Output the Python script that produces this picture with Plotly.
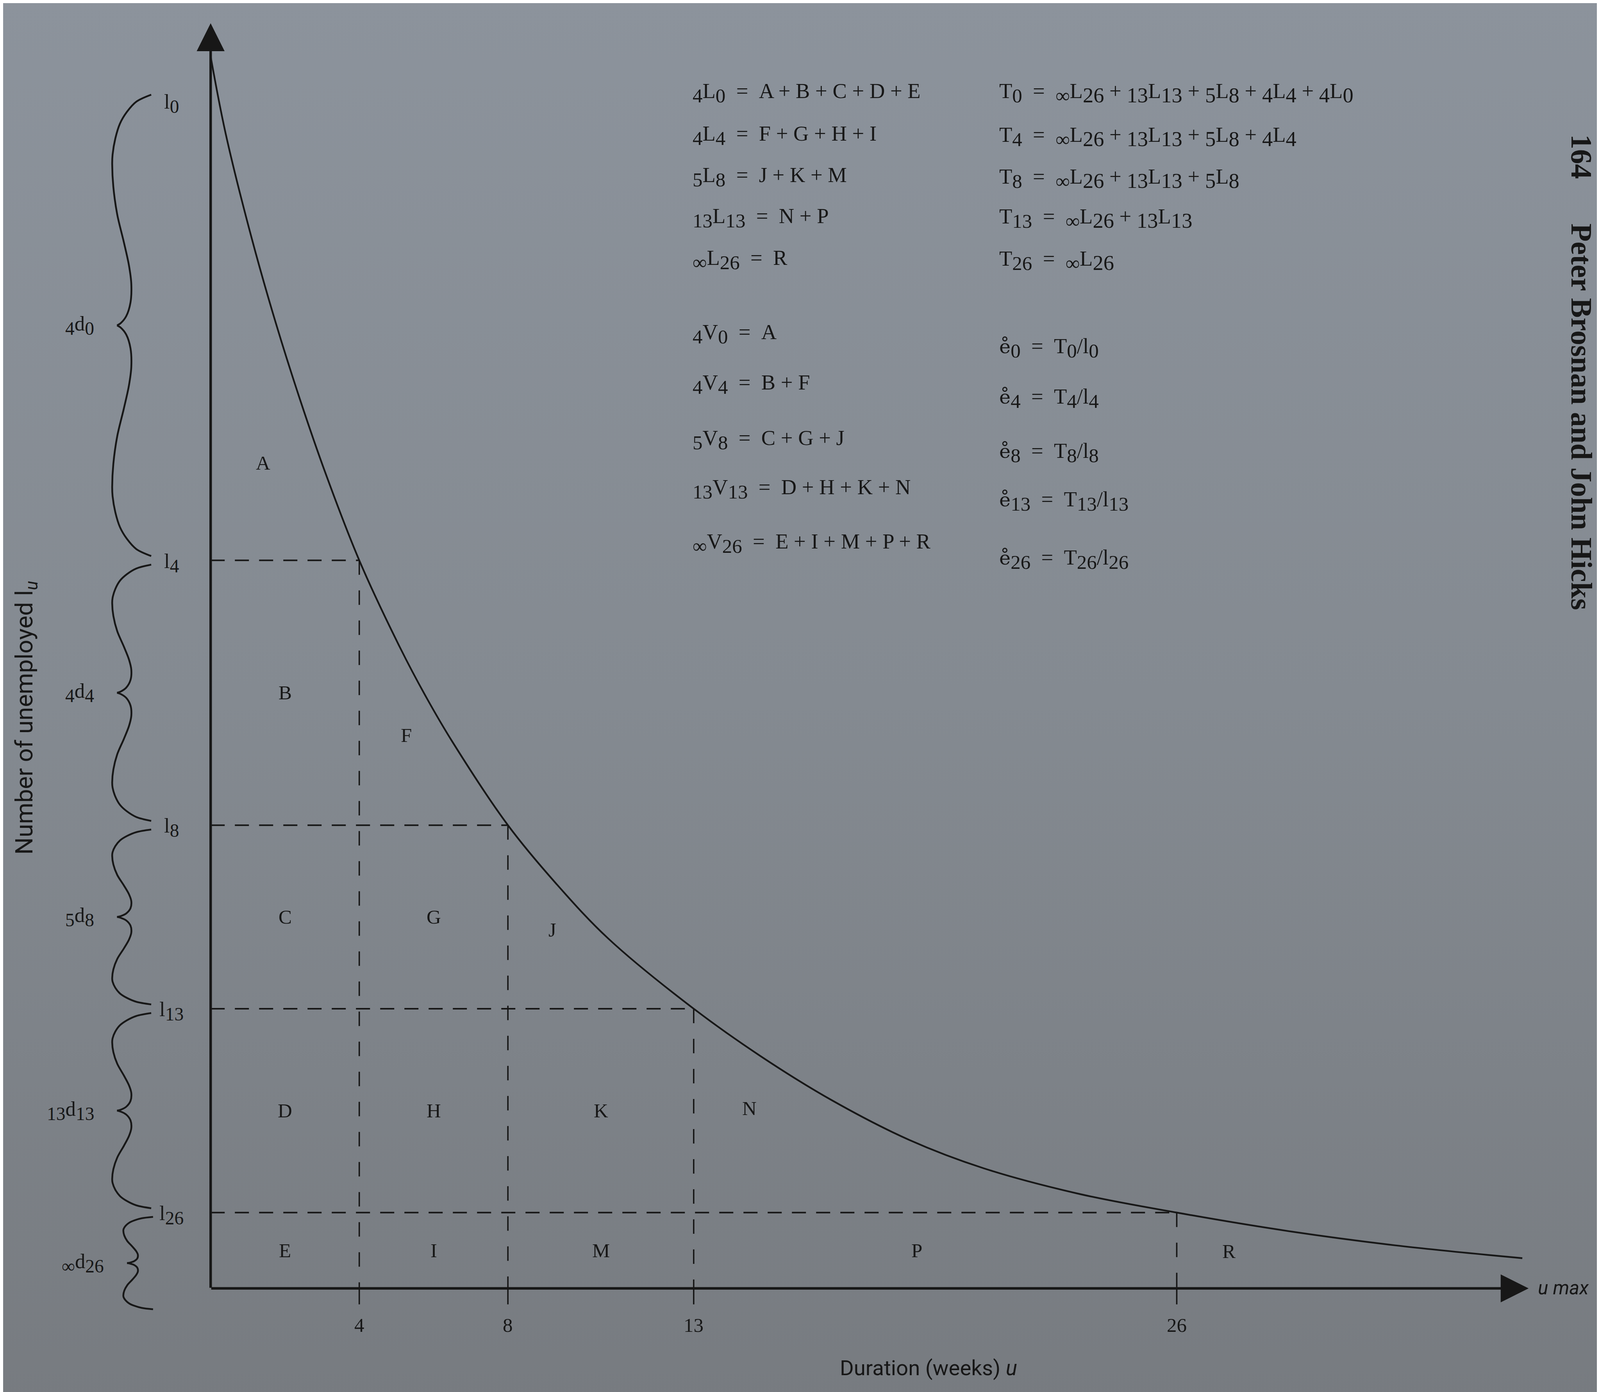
import plotly.graph_objects as go

# ---------------- data ----------------
durations = [0, 0.4, 1.1, 1.75, 2.4, 3.1, 4, 5.1, 5.8, 6.5, 8, 9.3, 10.7, 13,
             14.8, 16.7, 18.8, 20.8, 23.4, 26, 29, 32, 35.3]
unemployed = [100, 93.8, 85.3, 78.4, 72.2, 66.1, 59.1, 52.0, 48.0, 44.4, 37.6,
              32.85, 28.4, 22.7, 18.85, 15.3, 12.05, 9.75, 7.65, 6.15, 4.65, 3.45, 2.45]
cut_weeks = [4, 8, 13, 26]
cut_tick_labels = ["4", "8", "13", "26"]
level_names = ["0", "4", "8", "13", "26"]
interval_names = [("4", "0"), ("4", "4"), ("5", "8"), ("13", "13"), ("∞", "26")]
region_letters_grid = {(0, 0): "B", (0, 1): "C", (0, 2): "D", (0, 3): "E",
                       (1, 1): "G", (1, 2): "H", (1, 3): "I",
                       (2, 2): "K", (2, 3): "M", (3, 3): "P"}

# ---------------- style ----------------
K = 0.88                      # text scale for the capture window


def fs(px):
    return round(px * K, 2)


INK = "#171717"
SERIF = "Liberation Serif, Times New Roman, serif"
SANS = "Roboto, Liberation Sans, Arial, sans-serif"
X_RANGE = [-5.585, 37.475]
Y_RANGE = [-8.668, 104.335]
EN = "\u2002"


def sub(s, px=58):
    return f"<sub><span style='font-size:{fs(px)}px'>{s}</span></sub>"


l0 = unemployed[0]
levels = [unemployed[durations.index(w)] for w in cut_weeks]
all_levels = [l0] + levels

fig = go.Figure()

# background paper tone
fig.add_trace(go.Scatter(
    x=[X_RANGE[0] - 1, X_RANGE[1] + 1, X_RANGE[1] + 1, X_RANGE[0] - 1, X_RANGE[0] - 1],
    y=[Y_RANGE[0] - 1, Y_RANGE[0] - 1, Y_RANGE[1] + 1, Y_RANGE[1] + 1, Y_RANGE[0] - 1],
    mode="lines", line=dict(width=0), fill="toself",
    fillgradient=dict(type="vertical",
                      colorscale=[[0, "#777b80"], [0.5, "#848a91"], [1, "#8c939c"]]),
    hoverinfo="skip", showlegend=False))

# dashed guide lines (horizontal and vertical)
hx, hy, vx, vy = [], [], [], []
for w, lv in zip(cut_weeks, levels):
    hx += [0, w, None]
    hy += [lv, lv, None]
    vx += [w, w, None]
    vy += [lv, 0, None]
fig.add_trace(go.Scatter(x=hx, y=hy, mode="lines",
                         line=dict(color=INK, width=4, dash="36px,26px"),
                         hoverinfo="skip", showlegend=False))
fig.add_trace(go.Scatter(x=vx, y=vy, mode="lines",
                         line=dict(color=INK, width=3.6, dash="37px,40px"),
                         hoverinfo="skip", showlegend=False))

# tick marks below the axis
tx, ty = [], []
for w in cut_weeks:
    tx += [w, w, None]
    ty += [0, -1.3, None]
fig.add_trace(go.Scatter(x=tx, y=ty, mode="lines", line=dict(color=INK, width=3.6),
                         hoverinfo="skip", showlegend=False))

# survival curve
fig.add_trace(go.Scatter(x=durations, y=unemployed, mode="lines",
                         line=dict(color=INK, width=4.4, shape="spline", smoothing=1.0),
                         hoverinfo="skip", showlegend=False))

# curly braces on the left
BR = [(1.0, 0.0), (0.62, 0.03), (0.375, 0.075), (0.2, 0.125), (0.08, 0.19),
      (0.01, 0.26), (0.0, 0.3), (0.03, 0.4), (0.13, 0.52), (0.3, 0.64),
      (0.43, 0.74), (0.49, 0.82), (0.47, 0.9), (0.36, 0.96), (0.22, 0.99),
      (0.125, 1.0)]


def brace(xr, w, ytop, ybot):
    xl = xr - w
    h = (ytop - ybot) / 2
    xs, ys = [], []
    for xn, yn in BR:
        xs.append(xl + xn * w)
        ys.append(ytop - yn * h)
    xs.append(None)
    ys.append(None)
    for xn, yn in reversed(BR):
        xs.append(xl + xn * w)
        ys.append(ybot + yn * h)
    xs.append(None)
    ys.append(None)
    return xs, ys, xl + 0.125 * w, (ytop + ybot) / 2


gap = 0.35
span_tops = [l0 - 3.1] + [lv - gap for lv in levels]
span_bots = [lv + gap for lv in levels] + [-1.7]
bx, by, tips = [], [], []
for i, (t, b) in enumerate(zip(span_tops, span_bots)):
    last = i == len(span_tops) - 1
    xs, ys, tipx, tipy = brace(-1.55 if last else -1.6, 0.8 if last else 1.05, t, b)
    bx += xs
    by += ys
    tips.append((tipx, tipy))
fig.add_trace(go.Scatter(x=bx, y=by, mode="lines",
                         line=dict(color=INK, width=4.6, shape="spline", smoothing=0.9),
                         hoverinfo="skip", showlegend=False))

ann = []


def text(x, y, s, size=58, family=SERIF, xanchor="center", yanchor="middle", angle=0,
         scale=True):
    ann.append(dict(x=x, y=y, xref="x", yref="y", text=s, showarrow=False,
                    font=dict(family=family, size=fs(size) if scale else size, color=INK),
                    xanchor=xanchor, yanchor=yanchor, textangle=angle))


# axes with arrow heads
for hx_, hy_ in [(0, 102.7), (35.47, 0)]:
    ann.append(dict(x=hx_, y=hy_, ax=0, ay=0, xref="x", yref="y", axref="x", ayref="y",
                    text="", showarrow=True, arrowhead=2, arrowsize=2.2,
                    arrowwidth=6.5, arrowcolor=INK, standoff=0))

# level labels l_u
for i, (name, lv) in enumerate(zip(level_names, all_levels)):
    yy = lv - 3.8 if i == 0 else lv - 0.2
    text(-1.05, yy, "l" + sub(name, 54), size=60)

# interval labels n d u
for (a, b), (tx_, ty_) in zip(interval_names, tips):
    text(tx_ - 0.6, ty_, sub(a, 54) + "d" + sub(b, 54), size=60, xanchor="right")

# region letters
col_edges = [0] + cut_weeks
row_edges = levels + [0]
for (c, r), letter in region_letters_grid.items():
    cx = (col_edges[c] + col_edges[c + 1]) / 2
    ry = (row_edges[r] + row_edges[r + 1]) / 2
    if letter == "P":
        cx -= 0.5
    text(cx, ry, letter, size=58)
for letter, (ux, uy) in {"A": (1.41, 67.0), "F": (5.26, 44.9), "J": (9.2, 29.1),
                         "N": (14.5, 14.6), "R": (27.4, 3.0)}.items():
    text(ux, uy, letter, size=58)

# tick labels
for w, lab in zip(cut_weeks, cut_tick_labels):
    text(w, -3.0, lab, size=58)

text(35.7, 0.05, "<i>u max</i>", size=56, family=SANS, xanchor="left")
text(19.32, -6.45, "Duration (weeks) <i>u</i>", size=62, family=SANS)
text(-4.98, 46.3, "Number of unemployed l" + sub("<i>u</i>", 50),
     size=62, family=SANS, angle=-90, scale=False)

# header (runs along the page edge)
text(36.89, 74.35, "<b>164\u2003\u2002Peter Brosnan and John Hicks</b>",
     size=76, angle=90, scale=False)

# equations, left block
EQ = EN + "=" + EN
left_eq = [
    sub("4") + "L" + sub("0") + EQ + "A + B + C + D + E",
    sub("4") + "L" + sub("4") + EQ + "F + G + H + I",
    sub("5") + "L" + sub("8") + EQ + "J + K + M",
    sub("13") + "L" + sub("13") + EQ + "N + P",
    sub("∞") + "L" + sub("26") + EQ + "R",
    sub("4") + "V" + sub("0") + EQ + "A",
    sub("4") + "V" + sub("4") + EQ + "B + F",
    sub("5") + "V" + sub("8") + EQ + "C + G + J",
    sub("13") + "V" + sub("13") + EQ + "D + H + K + N",
    sub("∞") + "V" + sub("26") + EQ + "E + I + M + P + R",
]
left_y = [97.05, 93.6, 90.25, 86.9, 83.5, 77.5, 73.4, 68.9, 64.9, 60.5]
for s, yy in zip(left_eq, left_y):
    text(12.95, yy, s, size=62, xanchor="left")

PLUS = " + "
L26 = sub("∞") + "L" + sub("26", 62)
L13 = sub("13", 62) + "L" + sub("13", 62)
L8 = sub("5", 62) + "L" + sub("8", 62)
L4 = sub("4", 62) + "L" + sub("4", 62)
L0 = sub("4", 62) + "L" + sub("0", 62)
ering = f"<span style='font-family:DejaVu Serif;font-size:{fs(56)}px'>e\u030a</span>"
right_eq = [
    "T" + sub("0") + EQ + PLUS.join([L26, L13, L8, L4, L0]),
    "T" + sub("4") + EQ + PLUS.join([L26, L13, L8, L4]),
    "T" + sub("8") + EQ + PLUS.join([L26, L13, L8]),
    "T" + sub("13") + EQ + PLUS.join([L26, L13]),
    "T" + sub("26") + EQ + L26,
    ering + sub("0") + EQ + "T" + sub("0") + "/l" + sub("0"),
    ering + sub("4") + EQ + "T" + sub("4") + "/l" + sub("4"),
    ering + sub("8") + EQ + "T" + sub("8") + "/l" + sub("8"),
    ering + sub("13") + EQ + "T" + sub("13") + "/l" + sub("13"),
    ering + sub("26") + EQ + "T" + sub("26") + "/l" + sub("26"),
]
right_y = [97.05, 93.5, 90.1, 86.85, 83.45, 76.35, 72.25, 67.85, 63.9, 59.2]
for s, yy in zip(right_eq, right_y):
    text(21.2, yy, s, size=62, xanchor="left")

fig.update_layout(
    autosize=True,
    margin=dict(l=0, r=0, t=0, b=0, pad=0),
    paper_bgcolor="#848a91", plot_bgcolor="rgba(0,0,0,0)",
    xaxis=dict(range=X_RANGE, visible=False, fixedrange=True),
    yaxis=dict(range=Y_RANGE, visible=False, fixedrange=True),
    showlegend=False, annotations=ann, hovermode=False,
)

fig.write_html("out.html", default_width="100vw", default_height="100vh")
